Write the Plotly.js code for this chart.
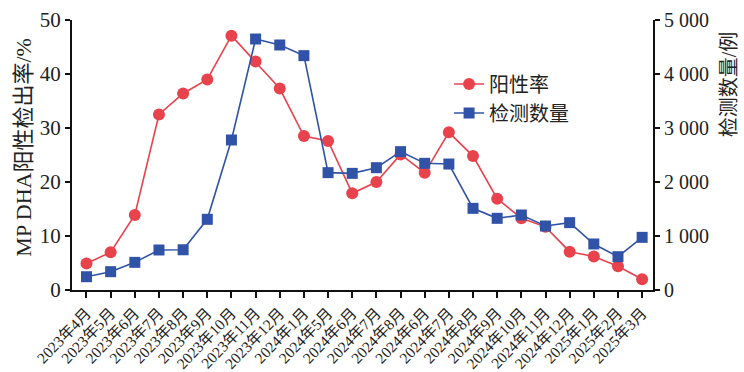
<!DOCTYPE html>
<html>
<head>
<meta charset="utf-8">
<script src="https://cdn.plot.ly/plotly-3.0.1.min.js"></script>
<style>html,body{margin:0;padding:0;background:#fff;}#chart{width:744px;height:372px;}</style>
</head>
<body>
<div id="chart"></div>
<script>
const monthLabels = ["2023年4月","2023年5月","2023年6月","2023年7月","2023年8月","2023年9月","2023年10月","2023年11月","2023年12月","2024年1月","2024年5月","2024年6月","2024年7月","2024年8月","2024年6月","2024年7月","2024年8月","2024年9月","2024年10月","2024年11月","2024年12月","2025年1月","2025年2月","2025年3月"];
const positiveRate = [4.9,7.0,13.9,32.5,36.4,39.0,47.1,42.3,37.3,28.5,27.6,17.9,20.0,25.1,21.7,29.2,24.8,16.9,13.3,11.7,7.1,6.2,4.4,2.0];
const testCount = [246,339,512,741,745,1309,2778,4648,4537,4340,2173,2160,2265,2562,2346,2333,1512,1327,1389,1185,1247,852,617,975];
const leftTicks = [0,10,20,30,40,50];
const rightTicks = [0,1000,2000,3000,4000,5000];
const rightTickText = ["0","1 000","2 000","3 000","4 000","5 000"];

const idx = monthLabels.map((_, i) => i);
const serif = "Liberation Serif, Times New Roman, Noto Sans CJK SC, serif";
const red = "#E8434C", blue = "#3053A8";

const traces = [
  {x: idx, y: positiveRate, name: "阳性率", type: "scatter", mode: "lines+markers",
   line: {color: red, width: 1.6}, marker: {color: red, size: 12, symbol: "circle"}, yaxis: "y"},
  {x: idx, y: testCount, name: "检测数量", type: "scatter", mode: "lines+markers",
   line: {color: blue, width: 1.6}, marker: {color: blue, size: 11, symbol: "square"}, yaxis: "y2"}
];

const layout = {
  width: 744, height: 372,
  margin: {l: 72, r: 91, t: 20, b: 82, pad: 0},
  paper_bgcolor: "#fff", plot_bgcolor: "#fff",
  showlegend: true,
  legend: {x: 0.649, y: 0.835, xanchor: "left", yanchor: "top", bgcolor: "rgba(0,0,0,0)",
           font: {family: serif, size: 20, color: "#222"}},
  xaxis: {range: [-0.6, 23.45], tickmode: "array", tickvals: idx, ticktext: monthLabels,
          tickangle: -46, tickfont: {family: serif, size: 15.5, color: "#222"},
          showline: true, linecolor: "#111", linewidth: 2, ticks: "outside", ticklen: 6,
          tickwidth: 2, tickcolor: "#111", showgrid: false, zeroline: false, fixedrange: true},
  yaxis: {range: [0, 50], tickmode: "array", tickvals: leftTicks,
          tickfont: {family: serif, size: 21, color: "#222"},
          showline: true, linecolor: "#111", linewidth: 2, ticks: "outside", ticklen: 5,
          tickwidth: 2, tickcolor: "#111", showgrid: false, zeroline: false},
  yaxis2: {range: [0, 5000], overlaying: "y", side: "right", tickmode: "array",
           tickvals: rightTicks, ticktext: rightTickText,
           tickfont: {family: serif, size: 20, color: "#222"},
           showline: true, linecolor: "#111", linewidth: 2, ticks: "outside", ticklen: 5,
           tickwidth: 2, tickcolor: "#111", showgrid: false, zeroline: false},
  annotations: [
    {text: "MP DHA阳性检出率/%", xref: "paper", yref: "paper", x: -0.083, y: 0.53,
     xanchor: "center", yanchor: "middle", textangle: -90, showarrow: false,
     font: {family: serif, size: 22, color: "#222"}},
    {text: "检测数量/例", xref: "paper", yref: "paper", x: 1.13, y: 0.76,
     xanchor: "center", yanchor: "middle", textangle: -90, showarrow: false,
     font: {family: serif, size: 20, color: "#222"}}
  ]
};

Plotly.newPlot("chart", traces, layout, {displayModeBar: false, staticPlot: true});
</script>
</body>
</html>
